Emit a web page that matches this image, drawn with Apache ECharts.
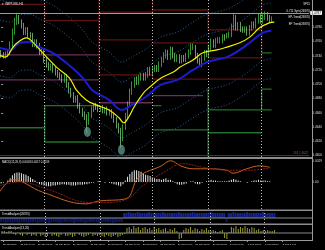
<!DOCTYPE html>
<html><head><meta charset="utf-8">
<script src="https://cdn.jsdelivr.net/npm/echarts@6.0.0/dist/echarts.min.js"></script>
<style>html,body{margin:0;padding:0;background:#000;overflow:hidden}#c{width:325px;height:250px}</style>
</head><body><div id="c"></div>
<script>
// ---------- data ----------
const symbolTitle = '\u25BE GBPUSD,H1';
const legendLines = ['SP15', '0.711 Sync(26870)', 'EP-Trend(26870)', 'EP Trend(26870)'];
const macdTitle = 'MACD(12,26,9) 0.0003 0.0017 0.0019';
const panel2Title = 'TrendAnalyzer(26870)';
const panel3Title = 'TrendAnalyzer(13,26)';

const opens = [1.4744,1.4741,1.4740,1.4742,1.4745,1.4756,1.4773,1.4787,1.4790,1.4787,
 1.4782,1.4773,1.4776,1.4769,1.4768,1.4756,1.4759,1.4754,1.4745,1.4745,
 1.4734,1.4727,1.4723,1.4726,1.4720,1.4716,1.4713,1.4710,1.4706,1.4710,
 1.4699,1.4691,1.4685,1.4678,1.4681,1.4670,1.4663,1.4658,1.4654,1.4647,
 1.4657,1.4665,1.4670,1.4668,1.4665,1.4667,1.4663,1.4665,1.4660,1.4661,
 1.4656,1.4650,1.4642,1.4635,1.4625,1.4640,1.4656,1.4672,1.4689,1.4699,
 1.4706,1.4703,1.4709,1.4712,1.4709,1.4713,1.4720,1.4716,1.4721,1.4723,
 1.4721,1.4728,1.4734,1.4740,1.4744,1.4738,1.4748,1.4740,1.4735,1.4738,
 1.4733,1.4737,1.4735,1.4740,1.4745,1.4752,1.4752,1.4740,1.4733,1.4728,
 1.4737,1.4744,1.4742,1.4751,1.4759,1.4755,1.4761,1.4761,1.4761,1.4766,
 1.4765,1.4768,1.4770,1.4780,1.4793,1.4779,1.4783,1.4777,1.4776,1.4777,
 1.4772,1.4779,1.4784,1.4782,1.4789,1.4794,1.4789,1.4794,1.4797,1.4793,
 1.4790];
const closes = [1.4741,1.4740,1.4742,1.4745,1.4756,1.4773,1.4787,1.4790,1.4787,1.4782,
 1.4773,1.4776,1.4769,1.4768,1.4756,1.4759,1.4754,1.4745,1.4745,1.4734,
 1.4727,1.4723,1.4726,1.4720,1.4716,1.4713,1.4710,1.4706,1.4710,1.4699,
 1.4691,1.4685,1.4678,1.4681,1.4670,1.4663,1.4658,1.4654,1.4647,1.4657,
 1.4665,1.4670,1.4668,1.4665,1.4667,1.4663,1.4665,1.4660,1.4661,1.4656,
 1.4650,1.4642,1.4635,1.4625,1.4640,1.4656,1.4672,1.4689,1.4699,1.4706,
 1.4703,1.4709,1.4712,1.4709,1.4713,1.4720,1.4716,1.4721,1.4723,1.4721,
 1.4728,1.4734,1.4740,1.4744,1.4738,1.4748,1.4740,1.4735,1.4738,1.4733,
 1.4737,1.4735,1.4740,1.4745,1.4752,1.4752,1.4740,1.4733,1.4728,1.4737,
 1.4744,1.4742,1.4751,1.4759,1.4755,1.4761,1.4761,1.4761,1.4766,1.4765,
 1.4768,1.4770,1.4780,1.4793,1.4779,1.4783,1.4777,1.4776,1.4777,1.4772,
 1.4779,1.4784,1.4782,1.4789,1.4794,1.4789,1.4794,1.4797,1.4793,1.4790,
 1.4791];
const highs = [1.4748,1.4745,1.4746,1.4749,1.4760,1.4778,1.4793,1.4800,1.4797,1.4791,
 1.4786,1.4780,1.4780,1.4773,1.4772,1.4763,1.4763,1.4758,1.4750,1.4749,
 1.4738,1.4731,1.4729,1.4729,1.4724,1.4720,1.4717,1.4714,1.4714,1.4714,
 1.4703,1.4695,1.4689,1.4684,1.4685,1.4674,1.4667,1.4662,1.4658,1.4661,
 1.4669,1.4674,1.4674,1.4672,1.4670,1.4671,1.4668,1.4669,1.4665,1.4665,
 1.4660,1.4654,1.4646,1.4639,1.4644,1.4660,1.4676,1.4694,1.4704,1.4710,
 1.4711,1.4713,1.4716,1.4716,1.4717,1.4724,1.4724,1.4725,1.4727,1.4727,
 1.4732,1.4738,1.4745,1.4749,1.4748,1.4753,1.4752,1.4744,1.4742,1.4742,
 1.4741,1.4741,1.4744,1.4749,1.4757,1.4757,1.4755,1.4744,1.4737,1.4741,
 1.4748,1.4748,1.4755,1.4764,1.4763,1.4765,1.4766,1.4766,1.4770,1.4770,
 1.4772,1.4774,1.4785,1.4800,1.4797,1.4787,1.4787,1.4781,1.4781,1.4781,
 1.4783,1.4788,1.4788,1.4793,1.4799,1.4798,1.4798,1.4802,1.4801,1.4797,
 1.4795];
const lows = [1.4737,1.4736,1.4736,1.4738,1.4741,1.4752,1.4769,1.4783,1.4784,1.4778,
 1.4769,1.4769,1.4765,1.4764,1.4752,1.4752,1.4750,1.4741,1.4741,1.4730,
 1.4723,1.4719,1.4719,1.4716,1.4712,1.4709,1.4706,1.4702,1.4702,1.4695,
 1.4687,1.4681,1.4674,1.4674,1.4666,1.4659,1.4654,1.4650,1.4632,1.4643,
 1.4653,1.4661,1.4664,1.4661,1.4661,1.4659,1.4659,1.4656,1.4656,1.4652,
 1.4646,1.4638,1.4631,1.4611,1.4620,1.4636,1.4652,1.4668,1.4685,1.4695,
 1.4699,1.4699,1.4705,1.4705,1.4705,1.4709,1.4712,1.4712,1.4717,1.4717,
 1.4717,1.4724,1.4730,1.4736,1.4734,1.4734,1.4736,1.4731,1.4731,1.4729,
 1.4729,1.4731,1.4731,1.4736,1.4741,1.4748,1.4736,1.4729,1.4724,1.4724,
 1.4733,1.4738,1.4738,1.4747,1.4751,1.4751,1.4757,1.4757,1.4757,1.4761,
 1.4764,1.4765,1.4766,1.4776,1.4775,1.4775,1.4773,1.4772,1.4772,1.4768,
 1.4768,1.4775,1.4778,1.4778,1.4785,1.4785,1.4785,1.4790,1.4789,1.4786,
 1.4786];

const yellowMA = [[-0.5,1.4740],[1.7,1.4738],[6.1,1.4755],[11.4,1.4765],[14,1.4759],[18.4,1.4744],[24.5,1.4724],[30.2,1.4709],[33.3,1.4692],[37.7,1.4678],[42,1.4671],[47.8,1.4664],[52.2,1.4653],[54.3,1.4646],[56.5,1.4654],[58.7,1.4667],[63.1,1.4688],[66.6,1.4698],[71,1.4709],[76.3,1.4717],[79.3,1.4724],[85,1.4734],[89.4,1.4744],[95.6,1.4748],[100,1.4752],[105.7,1.4758],[110.1,1.4766],[114.5,1.4779],[118.8,1.4786],[121,1.4787]];
const blueMA = [[-0.5,1.4751],[3.9,1.4748],[8.3,1.4758],[12.7,1.4759],[17.1,1.4752],[22.8,1.4744],[28.9,1.4730],[35.9,1.4710],[40.3,1.4692],[47.8,1.4678],[53.5,1.4664],[57.9,1.4671],[64,1.4682],[70.6,1.4699],[78,1.4706],[85,1.4720],[91.2,1.4731],[100,1.4738],[105.7,1.4748],[110.1,1.4758],[115.8,1.4772],[119.7,1.4775]];
const bandX = [-0.5,3.9,8.3,12.7,17.1,22.8,28.9,35.9,40.3,47.8,53.5,57.9,64,70.6,78,85,91.2,100,105.7,110.1,115.8,119.7];
const bandUpper1 = [1.4790,1.4787,1.4797,1.4798,1.4791,1.4783,1.4769,1.4749,1.4731,1.4717,1.4703,1.4710,1.4721,1.4738,1.4745,1.4759,1.4770,1.4777,1.4787,1.4797,1.4811,1.4814];
const bandUpper2 = [1.4818,1.4815,1.4825,1.4826,1.4819,1.4811,1.4797,1.4777,1.4759,1.4745,1.4731,1.4738,1.4749,1.4766,1.4773,1.4787,1.4798,1.4805,1.4815,1.4825,1.4839,1.4842];
const bandLower1 = [1.4712,1.4709,1.4719,1.4720,1.4713,1.4705,1.4691,1.4671,1.4653,1.4639,1.4625,1.4632,1.4643,1.4660,1.4667,1.4681,1.4692,1.4699,1.4709,1.4719,1.4733,1.4736];
const bandLower2 = [1.4684,1.4681,1.4691,1.4692,1.4685,1.4677,1.4663,1.4643,1.4625,1.4611,1.4597,1.4604,1.4615,1.4632,1.4639,1.4653,1.4664,1.4671,1.4681,1.4691,1.4705,1.4708];

const separators = [19.3, 43.4, 67.1, 91.7, 115.4];
const redSegs = [
  [[-0.5,1.4812],[19.3,1.4812],[19.3,1.4789],[43.4,1.4789]],
  [[43.4,1.4818],[43.4,1.4713]],
  [[43.4,1.4801],[67.1,1.4801],[67.1,1.4818]],
  [[43.4,1.4762],[67.1,1.4762]],
  [[43.4,1.4713],[67.1,1.4713],[67.1,1.4707],[115.4,1.4707]],
  [[67.1,1.4804],[91.7,1.4804],[91.7,1.4776],[115.4,1.4776]],
  [[67.1,1.4758],[91.7,1.4758],[91.7,1.4737],[115.4,1.4737],[115.4,1.4818]]
];
const pinkSegs = [
  [[-0.5,1.4741],[43.4,1.4741]],
  [[-0.5,1.4706],[43.4,1.4706]],
  [[43.4,1.4674],[67.1,1.4674]],
  [[67.1,1.4684],[89.5,1.4684]]
];
const greenSegs = [
  [[-0.5,1.4639],[19.3,1.4639]],
  [[19.3,1.4670],[43.4,1.4670]],
  [[19.3,1.4670],[19.3,1.4619],[43.4,1.4619]],
  [[67.1,1.4670],[71,1.4670]],
  [[67.1,1.4636],[91.7,1.4636]],
  [[91.7,1.4695],[91.7,1.4598]],
  [[91.7,1.4664],[115.4,1.4664],[115.4,1.4693],[119.8,1.4693]],
  [[91.7,1.4632],[115.4,1.4632]],
  [[115.4,1.4664],[119.8,1.4664]],
  [[115.4,1.4744],[119.8,1.4744]]
];
const lowMarks = [[38.2, 1.4633], [53.3, 1.4608]];
const priceTicks = [1.4600,1.4620,1.4640,1.4660,1.4680,1.4700,1.4720,1.4740,1.4760,1.4780,1.4800];
const bidPrice = 1.4787;
const fibLevel = 1.4622;
const fibName = '261';

const macdHist = [-0.0002,-0.0001,0.0000,0.0002,
 0.0005,0.0009,0.0012,0.0013,0.0013,0.0012,0.0011,
 0.0010,0.0008,0.0006,0.0004,0.0002,
 -0.0001,-0.0003,-0.0004,-0.0005,-0.0006,-0.0006,-0.0006,-0.0005,-0.0005,-0.0004,-0.0004,-0.0003,-0.0003,
 -0.0004,-0.0004,-0.0005,-0.0005,-0.0005,-0.0004,-0.0004,-0.0004,-0.0003,-0.0003,-0.0002,-0.0001,-0.0001,
 0.0000,0.0001,0.0001,0.0000,-0.0001,0.0000,-0.0001,-0.0002,-0.0003,-0.0004,-0.0005,
 -0.0006,
 -0.0003,0.0002,0.0007,0.0011,0.0014,0.0016,0.0016,0.0015,0.0014,
 0.0012,0.0010,0.0009,0.0008,0.0006,0.0005,0.0004,0.0004,0.0003,
 0.0004,0.0005,0.0003,0.0003,0.0001,-0.0001,-0.0003,-0.0004,-0.0004,
 -0.0003,-0.0002,0.0000,0.0001,0.0001,-0.0002,-0.0003,-0.0003,-0.0001,0.0000,
 0.0001,0.0002,0.0003,0.0002,0.0002,0.0001,0.0001,0.0001,0.0001,0.0001,
 0.0002,0.0003,0.0004,0.0003,0.0002,0.0001,0.0000,0.0000,-0.0001,0.0000,
 0.0001,0.0002,0.0002,0.0003,0.0002,0.0002,0.0002,0.0001,0.0001,0.0000];
const macdMain = [[-0.5,-0.0013],[5.2,0.0003],[18.4,-0.0014],[37.7,-0.0030],[43.4,-0.0026],[55.3,-0.0023],[61,0.0007],[71,0.0022],[75.1,0.0029],[79.5,0.0022],[85.2,0.0018],[91.3,0.0018],[100,0.0016],[102.7,0.0012],[108.8,0.0018],[114.6,0.0022],[119,0.0020]];
const macdSignal = [[-0.5,-0.0005],[8.3,0.0000],[21.5,-0.0011],[39,-0.0028],[47.8,-0.0028],[56.6,-0.0022],[63.2,-0.0004],[72,0.0013],[80.7,0.0025],[89.5,0.0020],[100.5,0.0016],[109.3,0.0016],[119,0.0019]];

const trendA = [-4,-4,-5,-4,-4,-5,-4,-4,-5,-4,-4,-4,-5,-4,-4,-4,-5,-4,-4,-4,
 -4,-5,-4,-4,-4,-4,-5,-4,-4,-4,-4,-4,-5,-4,-4,-4,-4,-5,-4,-4,
 -4,-4,-4,-5,-4,-4,-4,-4,-4,-5,-4,-4,-4,-4,5,5,6,5,5,5,
 6,5,5,5,5,6,5,5,5,5,5,6,5,5,5,5,5,5,6,5,
 5,5,5,5,6,5,5,5,5,5,5,5,6,5,5,5,5,5,5,-4,
 5,5,6,5,5,5,5,5,6,5,5,5,5,5,5,6,5,5,5,5,5];
const trendB = [2,2,1,2,2,
 -1,-2,0,-2,-3,0,-2,-1,
 -3,-2,-3,0,-3,-2,-4,-3,0,-3,-2,-3,-4,-2,0,-3,-3,-2,-4,-3,0,-2,-3,-4,-3,-2,0,-3,-2,-3,-2,
 -3,-4,-2,-3,-4,-3,-2,-4,-3,-2,-1,
 5,6,4,7,5,6,3,5,6,4,5,3,6,4,5,3,4,5,2,4,3,5,
 2,-6,-5,
 3,5,4,6,3,5,4,2,4,3,5,3,
 2,3,2,1,2,3,
 -5,-6,1,
 6,5,7,4,6,5,7,5,4,6,5,3,4,
 2,3,2,3,2,2,3];

const timeLabelPos = [0.4,8.1,15.8,23.5,31.2,38.9,46.6,54.3,62.0,69.7,77.4,85.1,92.8,100.5,108.2,115.9,123.6];
const timeLabels = ['25 Jan 2010','26 Jan 04:00','26 Jan 12:00','26 Jan 20:00','27 Jan 04:00','27 Jan 12:00','27 Jan 20:00','28 Jan 04:00','28 Jan 12:00','28 Jan 20:00','29 Jan 04:00','29 Jan 12:00','29 Jan 20:00','1 Feb 04:00','1 Feb 12:00','1 Feb 20:00','2 Feb 04:00'];

// ---------- chart ----------
const N = 137;
const cats = Array.from({length: N}, (_, i) => String(i));
const F = '"Liberation Sans", Arial, sans-serif';
const FS = 2.8;
const chart = echarts.init(document.getElementById('c'), null, {renderer: 'canvas'});

const sepMark = {
  silent: true, symbol: ['none', 'none'], animation: false,
  label: {show: false},
  lineStyle: {type: [1, 2], color: '#bdbdbd', width: 1},
  data: separators.map(v => ({xAxis: v}))
};
const lineS = (data, color, width, extra) => Object.assign({
  type: 'line', xAxisIndex: 1, yAxisIndex: 0, data, symbol: 'none', silent: true,
  lineStyle: {color, width}, z: 3
}, extra || {});
const zipBand = arr => arr.map((v, i) => [bandX[i], v]);
const dotted = {color: '#2f5f93', width: 1, type: [1, 2]};

const series = [];
series.push({
  type: 'candlestick', xAxisIndex: 0, yAxisIndex: 0, z: 4,
  data: opens.map((o, i) => [o, closes[i], lows[i], highs[i]]),
  barWidth: 1.2,
  itemStyle: {color: '#1f7f1f', color0: '#f4f4f4', borderColor: '#46d646', borderColor0: '#8fe08f', borderWidth: 0.7},
  markLine: {
    silent: true, symbol: ['none', 'none'], animation: false,
    data: [
      {yAxis: bidPrice, lineStyle: {color: '#9c9c9c', width: 1, type: 'solid'},
       label: {show: true, position: 'end', distance: 1, formatter: bidPrice.toFixed(4), color: '#000', backgroundColor: '#fff', padding: [1, 1, 0, 1], fontSize: 3.2, fontFamily: F}},
      {yAxis: fibLevel, lineStyle: {color: '#5e2434', width: 1.2, type: 'solid'},
       label: {show: true, position: 'insideEndTop', distance: 1, formatter: fibName + ' ' + fibLevel.toFixed(4), color: '#a05064', fontSize: 3, fontFamily: F}}
    ]
  }
});
[bandUpper2, bandUpper1, bandLower1, bandLower2].forEach(b => series.push(lineS(zipBand(b), '#2f5f93', 1, {smooth: 0.3, lineStyle: dotted})));
redSegs.forEach(s => series.push(lineS(s, '#5c1414', 1.3)));
pinkSegs.forEach(s => series.push(lineS(s, '#6e2e58', 1.3)));
greenSegs.forEach(s => series.push(lineS(s, '#22702a', 1.3)));
series.push(lineS(blueMA, '#1c1cd2', 2, {smooth: 0.4, z: 5}));
series.push(lineS(yellowMA, '#f2f200', 1.2, {smooth: 0.4, z: 6, markLine: sepMark}));
series.push({type: 'scatter', xAxisIndex: 1, yAxisIndex: 0, data: lowMarks, symbol: 'circle', symbolSize: [7, 10], silent: true, z: 7,
  itemStyle: {color: 'rgba(100,160,150,0.9)'}});

// MACD panel
series.push({type: 'bar', xAxisIndex: 2, yAxisIndex: 1, data: macdHist, barWidth: 1, silent: true, itemStyle: {color: '#e6e6e6'}});
series.push({type: 'line', xAxisIndex: 3, yAxisIndex: 1, data: macdMain, symbol: 'none', smooth: 0.4, silent: true,
  lineStyle: {color: '#c8641e', width: 1}, markLine: sepMark});
series.push({type: 'line', xAxisIndex: 3, yAxisIndex: 1, data: macdSignal, symbol: 'none', smooth: 0.4, silent: true,
  lineStyle: {color: '#8a1a1a', width: 1, type: [2, 1]}});
// Panel 2
series.push({type: 'bar', xAxisIndex: 4, yAxisIndex: 2, data: trendA, barWidth: 2, silent: true,
  itemStyle: {color: p => p.value >= 0 ? '#16248e' : '#0d165e'}});
series.push({type: 'line', xAxisIndex: 5, yAxisIndex: 2, data: [[-0.5, 0], [136.5, 0]], symbol: 'none', silent: true,
  lineStyle: {color: '#8a8a8a', width: 1}, markLine: sepMark, z: 3});
// Panel 3
series.push({type: 'bar', xAxisIndex: 6, yAxisIndex: 3, data: trendB, barWidth: 1, silent: true, itemStyle: {color: '#9a9a2a'}});
series.push({type: 'line', xAxisIndex: 7, yAxisIndex: 3, data: [[-0.5, 0], [136.5, 0]], symbol: 'none', silent: true,
  lineStyle: {color: '#8a8a8a', width: 1}, markLine: sepMark, z: 3});

const gridsDef = [
  {left: 0, width: 312, top: 0, height: 157},
  {left: 0, width: 312, top: 160, height: 49},
  {left: 0, width: 312, top: 211, height: 12},
  {left: 0, width: 312, top: 225, height: 15}
];
const hiddenCat = g => ({type: 'category', gridIndex: g, data: cats, show: false, boundaryGap: true});
const hiddenVal = g => ({type: 'value', gridIndex: g, min: -0.5, max: 136.5, show: false});
const xAxes = [hiddenCat(0), hiddenVal(0), hiddenCat(1), hiddenVal(1), hiddenCat(2), hiddenVal(2), hiddenCat(3),
  {type: 'value', gridIndex: 3, min: -0.5, max: 136.5, position: 'bottom',
   splitLine: {show: false},
   axisLine: {show: true, onZero: false, lineStyle: {color: '#9a9a9a', width: 1}},
   axisTick: {show: true, customValues: timeLabelPos, length: 2, lineStyle: {color: '#9a9a9a'}},
   axisLabel: {customValues: timeLabelPos, align: 'left', margin: 3, color: '#dcdcdc', fontSize: 2.5, fontFamily: F,
     formatter: v => { const i = timeLabelPos.indexOf(v); return i >= 0 ? timeLabels[i] : ''; }}}
];
const yAxes = [
  {type: 'value', gridIndex: 0, position: 'right', min: 1.4598, max: 1.4818, splitLine: {show: false}, axisLine: {show: false},
   axisTick: {show: true, customValues: priceTicks, length: 2, lineStyle: {color: '#9a9a9a'}},
   axisLabel: {customValues: priceTicks, formatter: v => v.toFixed(4), color: '#dcdcdc', fontSize: 3.2, fontFamily: F, margin: 3}},
  {type: 'value', gridIndex: 1, position: 'right', min: -0.0037, max: 0.0030, splitLine: {show: false}, axisLine: {show: false},
   axisTick: {show: false},
   axisLabel: {customValues: [0.0029, 0], formatter: v => v === 0 ? '0.00' : v.toFixed(4), color: '#dcdcdc', fontSize: 3.2, fontFamily: F, margin: 3}},
  {type: 'value', gridIndex: 2, min: -5, max: 7, show: false},
  {type: 'value', gridIndex: 3, min: -7, max: 8, show: false}
];

const txt = (x, y, t, extra) => ({type: 'text', x, y, silent: true, z: 100,
  style: Object.assign({text: t, fill: '#e6e6e6', font: FS + 'px ' + F}, extra || {})});
const bar = (x, y, w, h, c) => ({type: 'rect', silent: true, z: 90, shape: {x, y, width: w, height: h}, style: {fill: c}});
const graphic = [
  bar(0, 157, 312, 2, '#8c8c8c'),
  bar(0, 209.5, 312, 1.5, '#8c8c8c'),
  bar(0, 223.5, 312, 1.5, '#8c8c8c'),
  bar(312, 0, 1, 241, '#9a9a9a'),
  txt(2, 2.5, symbolTitle, {font: '3.2px ' + F}),
  txt(2, 161, macdTitle),
  txt(2, 212.5, panel2Title),
  txt(2, 226.5, panel3Title)
];
legendLines.forEach((t, i) => graphic.push(txt(310, 3 + i * 6.5, t, {textAlign: 'right'})));

chart.setOption({
  backgroundColor: '#000',
  animation: false,
  textStyle: {fontFamily: F},
  grid: gridsDef,
  xAxis: xAxes,
  yAxis: yAxes,
  series,
  graphic
});
</script>
</body></html>
